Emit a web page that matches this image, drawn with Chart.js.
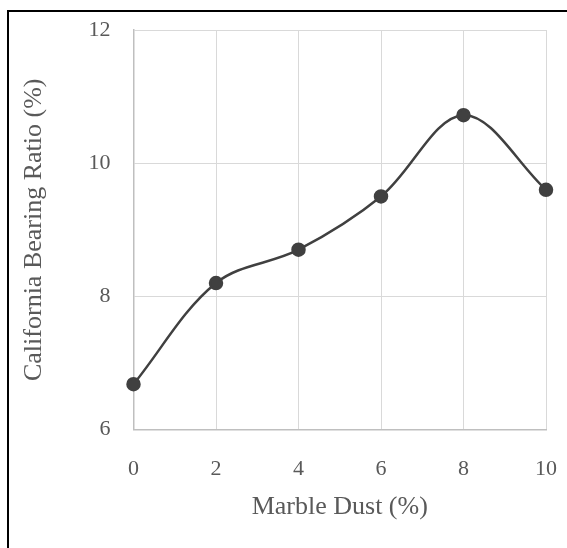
<!DOCTYPE html>
<html>
<head>
<meta charset="utf-8">
<script src="https://cdn.jsdelivr.net/npm/chart.js@4"></script>
<style>
  html, body { margin: 0; padding: 0; background: #fff; }
  #wrap { position: relative; width: 567px; height: 548px; }
  #frame {
    position: absolute; left: 7px; top: 10px; right: -10px; bottom: -10px;
    border-left: 2px solid #000; border-top: 2px solid #000;
  }
  canvas { position: absolute; left: 0; top: 0; }
</style>
</head>
<body>
<div id="wrap">
  <div id="frame"></div>
  <canvas id="cbrChart" width="567" height="548"></canvas>
</div>
<script>
// marble dust content and CBR values
const marbleDust = [0, 2, 4, 6, 8, 10];
const cbrValues = [6.68, 8.2, 8.7, 9.5, 10.72, 9.6];
const yTicks = [6, 8, 10, 12];
const xTicks = [0, 2, 4, 6, 8, 10];

const textColor = '#595959';
const gridColor = '#d9d9d9';
const serif = "'Liberation Serif', 'Times New Roman', serif";

// build point list for a linear x axis
let points = [];
for (let i = 0; i < marbleDust.length; i++) {
  points.push({ x: marbleDust[i], y: cbrValues[i] });
}

const cbr_chart = new Chart(document.getElementById('cbrChart'), {
  type: 'line',
  data: {
    datasets: [{
      label: 'CBR',
      data: points,
      borderColor: '#404040',
      backgroundColor: '#404040',
      borderWidth: 2.5,
      pointRadius: 6,
      pointHoverRadius: 6,
      tension: 0.35,
      clip: false,
      fill: false
    }]
  },
  options: {
    responsive: false,
    animation: false,
    layout: { padding: { left: 0, right: 21, top: 30, bottom: 0 } },
    plugins: {
      legend: { display: false },
      tooltip: { enabled: false }
    },
    scales: {
      x: {
        type: 'linear',
        min: 0,
        max: 10,
        afterBuildTicks: (axis) => { axis.ticks = xTicks.map(v => ({ value: v })); },
        afterFit: (axis) => {
          axis.height = 118.5;
          // keep the plot edges where the reference has them
          axis.paddingLeft = 0;
          axis.paddingRight = 0;
        },
        grid: { color: gridColor, lineWidth: 1, drawTicks: false },
        border: { color: '#bfbfbf', width: 1.5 },
        ticks: {
          color: textColor,
          padding: 27,
          maxRotation: 0,
          font: { family: serif, size: 22 }
        },
        title: {
          display: true,
          text: 'Marble Dust (%)',
          color: textColor,
          padding: { top: 0, bottom: 25 },
          font: { family: serif, size: 26 }
        }
      },
      y: {
        min: 6,
        max: 12,
        afterBuildTicks: (axis) => { axis.ticks = yTicks.map(v => ({ value: v })); },
        afterFit: (axis) => {
          axis.width = 133.5;
          axis.paddingTop = 0;
          axis.paddingBottom = 0;
        },
        grid: { color: gridColor, lineWidth: 1, drawTicks: false },
        border: { color: '#bfbfbf', width: 1.5 },
        ticks: {
          color: textColor,
          padding: 23,
          font: { family: serif, size: 22 }
        },
        title: {
          display: true,
          text: 'California Bearing Ratio (%)',
          color: textColor,
          padding: { top: 19, bottom: 0 },
          font: { family: serif, size: 26 }
        }
      }
    }
  }
});
</script>
</body>
</html>
